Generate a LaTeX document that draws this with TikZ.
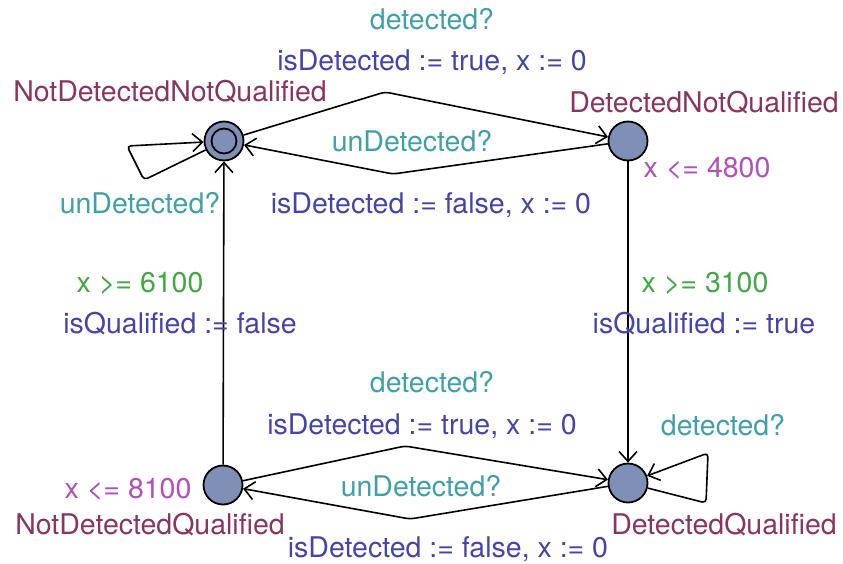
\documentclass[tikz,border=0pt]{standalone}
\usepackage{fontspec}
\setmainfont{TeX Gyre Heros}
\usetikzlibrary{arrows.meta}
\definecolor{locname}{HTML}{8A3560}
\definecolor{sync}{HTML}{40A0A8}
\definecolor{assign}{HTML}{4444AA}
\definecolor{guard}{HTML}{40A840}
\definecolor{inv}{HTML}{B050B8}
\definecolor{locfill}{HTML}{7F8FB5}
\begin{document}
\begin{tikzpicture}[x=1pt,y=-1pt,
  loc/.style={circle,draw=black,line width=1.8pt,fill=locfill,minimum size=39pt,inner sep=0pt},
  edge/.style={line width=1.6pt,-{Straight Barb[length=10pt,width=18pt,line width=1.6pt]},rounded corners=4pt},
  lbl/.style={font=\fontsize{28.5}{31}\selectfont,inner sep=0pt,anchor=base},
  nm/.style={lbl,text=locname},
  sy/.style={lbl,text=sync},
  as/.style={lbl,text=assign},
  gd/.style={lbl,text=guard},
  iv/.style={lbl,text=inv}]
\useasboundingbox (0,0) rectangle (843,563);
\node[loc] (ndnq) at (224,141) {};
\node[circle,draw=black,line width=1.8pt,minimum size=25pt,inner sep=0pt] (ndnqin) at (224,141) {};
\node[loc] (dnq) at (628,141) {};
\node[loc] (dq) at (628,483) {};
\node[loc] (ndq) at (223,485) {};
% nails
\coordinate (n1) at (385,92);
\coordinate (n2) at (393,174);
\coordinate (n3) at (405,446);
\coordinate (n4) at (410,519);
\coordinate (l1) at (144,180);
\coordinate (l2) at (127,146);
\coordinate (l3) at (706,503);
\coordinate (l4) at (708,453);
% edges
\draw[edge] (ndnq) -- (n1) -- (dnq);
\draw[edge] (dnq) -- (n2) -- (ndnq);
\draw[edge] (ndnq) -- (l1) -- (l2) -- (ndnq);
\draw[edge] (dnq) -- (dq);
\draw[edge] (ndq) -- (ndnq);
\draw[edge] (ndq) -- (n3) -- (dq);
\draw[edge] (dq) -- (n4) -- (ndq);
\draw[edge] (dq) -- (l3) -- (l4) -- (dq);
% labels
\node[sy] (t1) at (432,29) {detected?};
\node[as] (t2) at (432,70) {isDetected := true, x := 0};
\node[nm] (t3) at (170,101) {NotDetectedNotQualified};
\node[nm] (t4) at (704,112) {DetectedNotQualified};
\node[sy] (t5) at (412,151) {unDetected?};
\node[iv] (t6) at (707,177) {x <= 4800};
\node[sy] (t7) at (140,213) {unDetected?};
\node[as] (t8) at (431,213) {isDetected := false, x := 0};
\node[gd] (t9) at (140,292) {x >= 6100};
\node[as] (t10) at (180,333) {isQualified := false};
\node[gd] (t11) at (705,292) {x >= 3100};
\node[as] (t12) at (704,333) {isQualified := true};
\node[sy] (t13) at (432,392) {detected?};
\node[as] (t14) at (422,434) {isDetected := true, x := 0};
\node[sy] (t15) at (723,435) {detected?};
\node[iv] (t16) at (128,498) {x <= 8100};
\node[sy] (t17) at (421,496) {unDetected?};
\node[nm] (t18) at (150,534) {NotDetectedQualified};
\node[nm] (t19) at (724,534) {DetectedQualified};
\node[as] (t20) at (448,557) {isDetected := false, x := 0};
\end{tikzpicture}
\end{document}
